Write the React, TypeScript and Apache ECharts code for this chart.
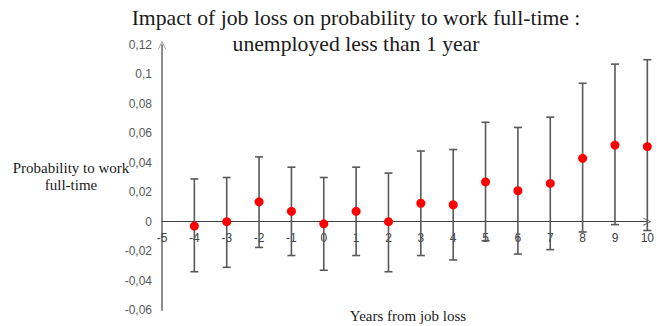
import React, { useEffect, useRef } from "react";
import * as echarts from "echarts";

const years = [-4, -3, -2, -1, 0, 1, 2, 3, 4, 5, 6, 7, 8, 9, 10];
const estimates = [-0.003, 0, 0.0135, 0.007, -0.0015, 0.007, 0, 0.0125, 0.0115, 0.027, 0.021, 0.026, 0.043, 0.052, 0.051];
const upperBounds = [0.029, 0.03, 0.044, 0.037, 0.03, 0.037, 0.033, 0.048, 0.049, 0.0675, 0.064, 0.071, 0.094, 0.107, 0.11];
const lowerBounds = [-0.034, -0.031, -0.0175, -0.023, -0.033, -0.023, -0.034, -0.023, -0.026, -0.013, -0.022, -0.019, -0.007, -0.002, -0.006];

const titleLines = ["Impact of job loss on probability to work full-time :", "unemployed less than 1 year"];
const yAxisNameLines = ["Probability to work", "full-time"];
const xAxisName = "Years from job loss";

const chevron = "path://M0,10 L5,0 L10,10 L9,10 L5,2 L1,10 Z";
const SERIF = "'Liberation Serif', 'Times New Roman', serif";

const GRID_TOP = 45;
const GRID_BOTTOM = 16;
const CHART_H = 326;
const Y_MIN = -0.06;
const Y_MAX = 0.12;

export default function App() {
  const ref = useRef<HTMLDivElement>(null);
  useEffect(() => {
    if (!ref.current) return;
    const chart = echarts.init(ref.current, null, { renderer: "svg" });
    const errData = years.map((y, i) => [y, lowerBounds[i], upperBounds[i]]);
    const ptData = years.map((y, i) => [y, estimates[i]]);
    const gridH = CHART_H - GRID_TOP - GRID_BOTTOM;
    const zeroOffset = -gridH * (0 - Y_MIN) / (Y_MAX - Y_MIN);
    const nameStyle = { fontFamily: SERIF, fontSize: 15, fill: "#1a1a1a" };
    const titleStyle = { fontFamily: SERIF, fontSize: 21.7, fill: "#1a1a1a" };
    chart.setOption({
      animation: false,
      graphic: [
        {
          type: "text",
          x: 356,
          y: 18,
          style: { ...titleStyle, text: titleLines[0], align: "center", verticalAlign: "middle" },
        },
        {
          type: "text",
          x: 356,
          y: 44,
          style: { ...titleStyle, text: titleLines[1], align: "center", verticalAlign: "middle" },
        },
        {
          type: "text",
          x: 71,
          y: 168,
          style: { ...nameStyle, text: yAxisNameLines[0], align: "center", verticalAlign: "middle" },
        },
        {
          type: "text",
          x: 71,
          y: 185,
          style: { ...nameStyle, text: yAxisNameLines[1], align: "center", verticalAlign: "middle" },
        },
        {
          type: "text",
          x: 408,
          y: 316,
          style: { ...nameStyle, text: xAxisName, align: "center", verticalAlign: "middle" },
        },
      ],
      grid: { left: 162, right: 5, top: GRID_TOP, bottom: GRID_BOTTOM, containLabel: false },
      xAxis: {
        type: "value",
        min: -5,
        max: 10,
        interval: 1,
        offset: zeroOffset,
        splitLine: { show: false },
        axisTick: { show: false },
        axisLine: {
          onZero: false,
          lineStyle: { color: "#404040", width: 1 },
          symbol: ["none", chevron],
          symbolSize: [10, 8],
        },
        axisLabel: {
          color: "#404040",
          fontFamily: "'Liberation Sans', Arial, sans-serif",
          fontSize: 12,
          margin: 10,
          showMaxLabel: true,
          showMinLabel: true,
        },
      },
      yAxis: {
        type: "value",
        min: Y_MIN,
        max: Y_MAX,
        interval: 0.02,
        splitLine: { show: false },
        axisTick: { show: false },
        axisLine: {
          show: true,
          onZero: false,
          lineStyle: { color: "#8c8c8c", width: 2 },
          symbol: ["none", chevron],
          symbolSize: [10, 8],
        },
        axisLabel: {
          color: "#595959",
          fontFamily: "'Liberation Sans', Arial, sans-serif",
          fontSize: 12,
          margin: 10,
          formatter: (v: number) => String(parseFloat(v.toFixed(2))).replace(".", ","),
        },
      },
      series: [
        {
          type: "custom",
          data: errData,
          clip: false,
          z: 2,
          renderItem: (params: any, api: any) => {
            const x = api.value(0);
            const lo = api.coord([x, api.value(1)]);
            const hi = api.coord([x, api.value(2)]);
            const half = 4;
            const style = { stroke: "#595959", lineWidth: 1.6 };
            return {
              type: "group",
              children: [
                { type: "line", shape: { x1: hi[0], y1: hi[1], x2: lo[0], y2: lo[1] }, style },
                { type: "line", shape: { x1: hi[0] - half, y1: hi[1], x2: hi[0] + half, y2: hi[1] }, style },
                { type: "line", shape: { x1: lo[0] - half, y1: lo[1], x2: lo[0] + half, y2: lo[1] }, style },
              ],
            };
          },
        },
        {
          type: "scatter",
          data: ptData,
          symbol: "circle",
          symbolSize: 9,
          clip: false,
          z: 3,
          itemStyle: { color: "#ff0000", opacity: 1 },
        },
      ],
    });
    return () => chart.dispose();
  }, []);
  return (
    <div
      ref={ref}
      style={{ position: "absolute", left: 0, top: 0, width: 657, height: 326 }}
    />
  );
}
